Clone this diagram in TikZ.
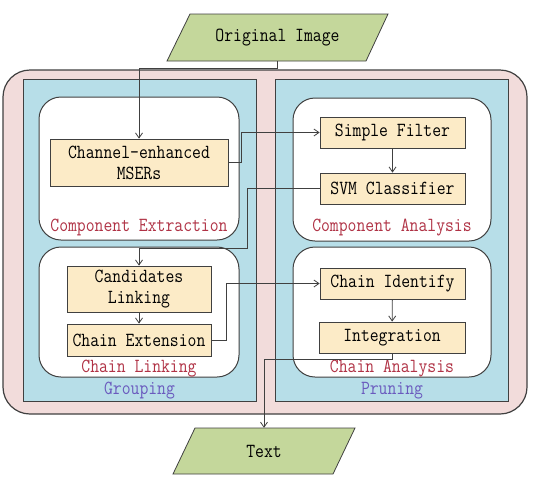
\documentclass[tikz,border=0pt]{standalone}
\usepackage{fontspec}
\newfontfamily\diagfont[FakeStretch=0.86]{Latin Modern Mono}
\usetikzlibrary{arrows.meta}
\definecolor{pinkbg}{HTML}{F2DCDB}
\definecolor{bluebg}{HTML}{B7DEE8}
\definecolor{yellowbg}{HTML}{FCEBC7}
\definecolor{greenbg}{HTML}{C4D79B}
\definecolor{linegray}{HTML}{404040}
\definecolor{labelred}{HTML}{B03245}
\definecolor{labelpurple}{HTML}{6A5ABE}
\begin{document}
\begin{tikzpicture}[x=1pt,y=-1pt,
  every node/.style={font=\fontsize{20}{21}\selectfont\diagfont, inner sep=0pt},
  outerbox/.style={draw=linegray, line width=1.2pt, fill=pinkbg, rounded corners=27pt, minimum width=524pt, minimum height=344pt},
  groupbox/.style={draw=linegray, line width=1pt, fill=bluebg, minimum width=233pt, minimum height=322pt},
  stagebox/.style={draw=linegray, line width=1pt, fill=white, rounded corners=22pt},
  procbox/.style={draw=linegray, line width=0.8pt, fill=yellowbg, align=center},
  iotext/.style={minimum width=150pt},
  ioshape/.style={draw=linegray, line width=0.8pt, fill=greenbg},
  stagelabel/.style={text=labelred},
  grouplabel/.style={text=labelpurple},
  arr/.style={draw=linegray, line width=0.8pt, -{Straight Barb[length=5pt,width=7pt]}}
]
\useasboundingbox (0,0) rectangle (546,480);
% containers
\node[outerbox] (outer) at (265,242) {};
\node[groupbox] (grp) at (140,240) {};
\node[groupbox] (prn) at (392,240) {};
\node[stagebox, minimum width=200pt, minimum height=143pt] (ce) at (139,168.5) {};
\node[stagebox, minimum width=200pt, minimum height=130pt] (cl) at (139,312) {};
\node[stagebox, minimum width=198pt, minimum height=143pt] (ca) at (392,169.5) {};
\node[stagebox, minimum width=198pt, minimum height=130pt] (chan) at (392,312) {};
% labels
\node[stagelabel] (lce) at (139,227) {Component Extraction};
\node[stagelabel] (lca) at (392,228) {Component Analysis};
\node[stagelabel] (lcl) at (139,369) {Chain Linking};
\node[stagelabel] (lchan) at (392,369) {Chain Analysis};
\node[grouplabel] (lgrp) at (139.5,391) {Grouping};
\node[grouplabel] (lprn) at (392,391) {Pruning};
% process boxes
\node[procbox, minimum width=178pt, minimum height=47pt] (mser) at (139,162.5) {Channel-enhanced\\MSERs};
\node[procbox, minimum width=145pt, minimum height=31pt] (filter) at (392.5,132.5) {Simple Filter};
\node[procbox, minimum width=145pt, minimum height=31pt] (svm) at (392.5,188.5) {SVM Classifier};
\node[procbox, minimum width=144pt, minimum height=46pt] (cand) at (139,289) {Candidates\\Linking};
\node[procbox, minimum width=144pt, minimum height=32pt] (ext) at (139,340) {Chain Extension};
\node[procbox, minimum width=145pt, minimum height=31pt] (chid) at (392.5,283.5) {Chain Identify};
\node[procbox, minimum width=146pt, minimum height=31pt] (integ) at (392,337.5) {Integration};
% input / output parallelograms
\path[ioshape] (190,14) -- (388,14) -- (366,61) -- (167,61) -- cycle;
\path[ioshape] (195,428) -- (355,428) -- (333,474) -- (173,474) -- cycle;
\node[iotext, minimum height=47pt] (orig) at (277.5,37.5) {Original Image};
\node[iotext, minimum height=46pt] (text) at (264,451) {Text};
% connectors
\draw[arr] (orig.south) -- ++(0,7) -| (mser.north);
\draw[arr] (mser.east) -- ++(13,0) |- (filter.west);
\draw[arr] (filter) -- (svm);
\draw[arr] (svm.west) -- ++(-72,0) -- ++(0,59.5) -| (cand.north);
\draw[arr] (cand) -- (ext);
\draw[arr] (ext.east) -- ++(15,0) |- (chid.west);
\draw[arr] (chid) -- (integ);
\draw[arr] (integ.south) -- ++(0,6) -| (text.north);
\end{tikzpicture}
\end{document}
